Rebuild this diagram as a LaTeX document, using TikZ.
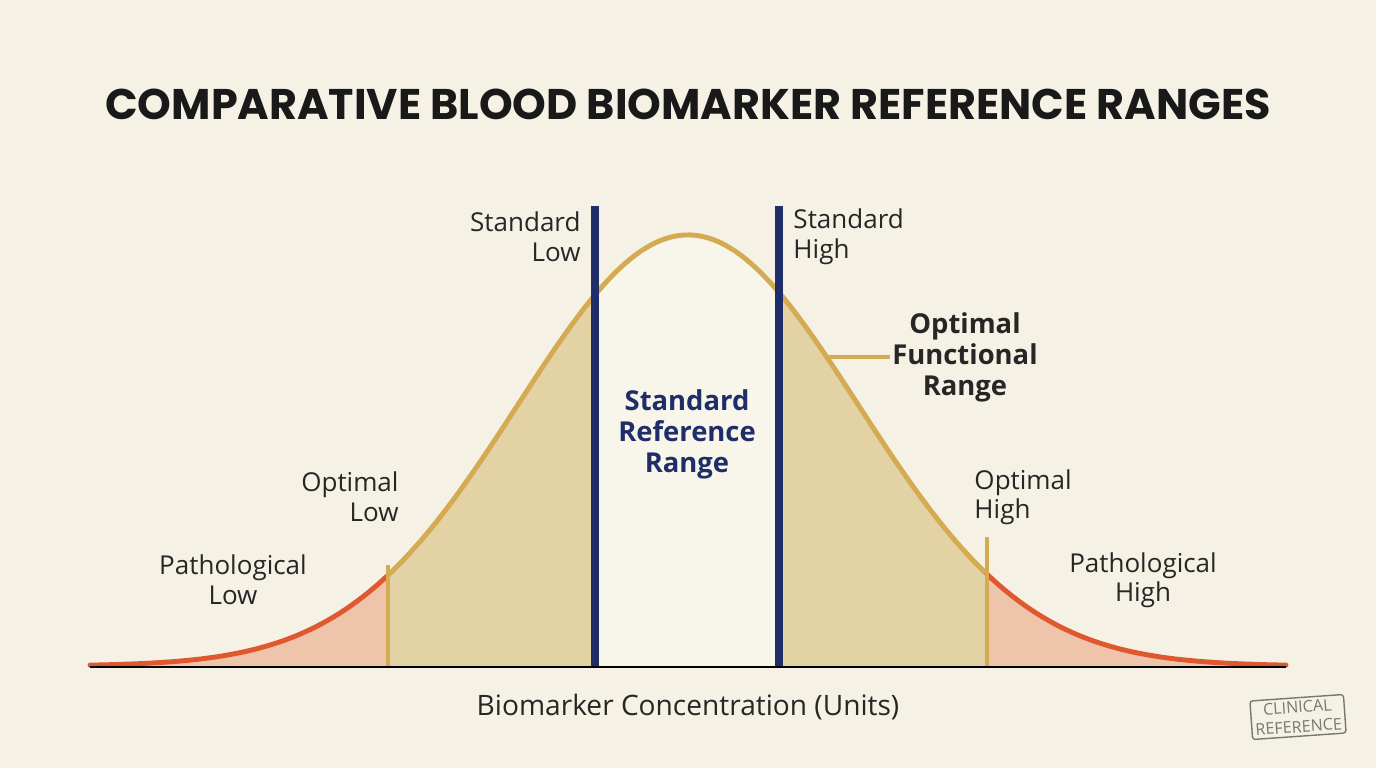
\documentclass[tikz,border=0pt]{standalone}
\usepackage{fontspec}
\setmainfont{Open Sans}
\newfontfamily\titlefont{Poppins}
\usetikzlibrary{positioning}
\definecolor{paper}{RGB}{245,241,228}
\definecolor{gold}{RGB}{212,170,82}
\definecolor{tailred}{RGB}{224,88,48}
\definecolor{navy}{RGB}{31,45,105}
\definecolor{goldfill}{RGB}{226,210,164}
\definecolor{redfill}{RGB}{238,196,170}
\definecolor{midfill}{RGB}{248,245,234}
\definecolor{stampgray}{RGB}{120,120,115}
\tikzset{
  lbl/.style={font=\fontsize{37}{42}\selectfont, align=center, text=black!85},
  boldlbl/.style={font=\fontsize{39}{44}\selectfont\bfseries, align=center},
  curve/.style={line width=7pt, line cap=round},
}
\def\bell#1{666-431*exp(-0.5*((#1-688)/170)^2)}

\begin{document}
\begin{tikzpicture}[x=0.05cm, y=-0.05cm]
  \fill[paper] (0,0) rectangle (1376,768);
  \useasboundingbox (0,0) rectangle (1376,768);

  % shaded regions
  \fill[redfill] plot[domain=90:388, samples=50] (\x,{\bell{\x}}) -- (388,666) -- (90,666) -- cycle;
  \fill[goldfill] plot[domain=388:595, samples=50] (\x,{\bell{\x}}) -- (595,666) -- (388,666) -- cycle;
  \fill[midfill] plot[domain=595:780, samples=50] (\x,{\bell{\x}}) -- (780,666) -- (595,666) -- cycle;
  \fill[goldfill] plot[domain=780:987, samples=50] (\x,{\bell{\x}}) -- (987,666) -- (780,666) -- cycle;
  \fill[redfill] plot[domain=987:1286, samples=50] (\x,{\bell{\x}}) -- (1286,666) -- (987,666) -- cycle;

  % curve
  \draw[curve, tailred] plot[domain=90:388, samples=50] (\x,{\bell{\x}});
  \draw[curve, gold] plot[domain=388:987, samples=120] (\x,{\bell{\x}});
  \draw[curve, tailred] plot[domain=987:1286, samples=50] (\x,{\bell{\x}});

  % axis
  \coordinate (axl) at (90,667);
  \coordinate (axr) at (1286,667);
  \draw[line width=2.5pt, black] (axl) -- (axr);

  % range markers
  \coordinate (optlowtop) at (388,565);
  \coordinate (optlowbot) at (388,666);
  \coordinate (opthightop) at (987,537);
  \coordinate (opthighbot) at (987,666);
  \draw[line width=6pt, gold] (optlowtop) -- (optlowbot);
  \draw[line width=6pt, gold] (opthightop) -- (opthighbot);
  \coordinate (stdlowtop) at (595,206);
  \coordinate (stdlowbot) at (595,666);
  \coordinate (stdhightop) at (779,206);
  \coordinate (stdhighbot) at (779,666);
  \draw[line width=12pt, navy] (stdlowtop) -- (stdlowbot);
  \draw[line width=12pt, navy] (stdhightop) -- (stdhighbot);

  % labels
  \node[font=\titlefont\fontsize{61}{66}\selectfont\bfseries, text=black!90] (title) at (688,104) {COMPARATIVE BLOOD BIOMARKER REFERENCE RANGES};
  \node[lbl, align=right, anchor=east] (stdlow) at (583,237) {Standard\\Low};
  \node[lbl, align=left, anchor=west] (stdhigh) at (791,237) {Standard\\High};
  \node[lbl, align=right, anchor=east] (optlow) at (401,497) {Optimal\\Low};
  \node[lbl, align=left, anchor=west] (opthigh) at (972,497) {Optimal\\High};
  \node[lbl] (pathlow) at (233,580) {Pathological\\Low};
  \node[lbl] (pathhigh) at (1143,580) {Pathological\\High};
  \node[boldlbl, text=navy] (stdrange) at (687,434) {Standard\\Reference\\Range};
  \node[boldlbl, text=black!85] (optrange) at (965,357) {Optimal\\Functional\\Range};
  \coordinate (optpoint) at (826,357);
  \draw[line width=6pt, gold] (optpoint) -- (optrange.west);
  \node[lbl, font=\fontsize{40}{44}\selectfont] (axis) at (688,707) {Biomarker Concentration (Units)};

  % stamp
  \node[draw=stampgray, line width=2pt, rounded corners=4pt, rotate=4, text=stampgray,
        font=\fontsize{23}{28}\selectfont, align=center, inner sep=5pt] (stamp) at (1298,717) {CLINICAL\\REFERENCE};
\end{tikzpicture}
\end{document}
